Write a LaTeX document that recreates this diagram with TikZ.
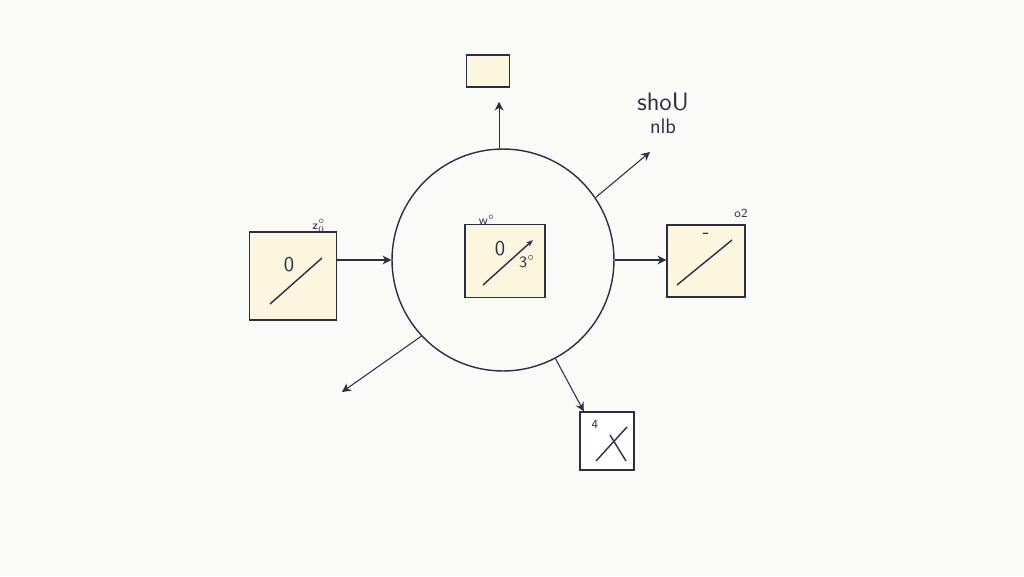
\documentclass[tikz,border=0pt]{standalone}
\usepackage{tikz}
\usetikzlibrary{positioning}
\usetikzlibrary{arrows.meta}
\definecolor{ink}{RGB}{45,45,70}
\definecolor{paper}{RGB}{250,250,247}
\definecolor{wash}{RGB}{250,247,222}
\tikzset{
    boxnode/.style = {rectangle, thick, draw=ink, fill=white, inner sep=0pt},
    boxnodey/.style = {rectangle, thick, draw=ink, fill=wash, inner sep=0pt},
    hubnode/.style = {circle, thick, draw=ink, inner sep=0pt, minimum size=4.44cm},
    labeln/.style = {text=ink, font=\sffamily\large},
    labels/.style = {text=ink, font=\sffamily\scriptsize},
    edgek/.style = {-{Stealth[length=5pt,width=5pt]}, semithick, ink},
    strokek/.style = {-, thick, ink},
}

\begin{document}
\begin{tikzpicture}[x=0.02cm,y=-0.02cm]
%
\path[use as bounding box,fill=paper] (0,0) rectangle (1024,576);
%
\node[hubnode] at (503,260) (hub) {};
\node[boxnodey,minimum width=1.6cm,minimum height=1.46cm] at (505,261) (mid) {};
\node[boxnodey,minimum width=1.74cm,minimum height=1.76cm] at (293,276) (left) {};
\node[boxnodey,minimum width=1.56cm,minimum height=1.44cm] at (706,261) (right) {};
\node[boxnode,minimum width=1.08cm,minimum height=1.16cm] at (607,441) (bot) {};
\node[boxnodey,minimum width=0.86cm,minimum height=0.64cm] at (488,71) (top) {};
%
% marks inside the boxes
\draw[strokek,-{Stealth[length=4pt,width=3pt]}] (483,285) -- (533,240);
\node[labeln] at (500,249) (midz) {0};
\node[labels,font=\sffamily\small] at (527,262) (mida) {3$^\circ$};
\node[labels] at (487,220) (midw) {w$^\circ$};
\draw[strokek] (270,304) -- (322,258);
\node[labeln] at (289,265) (leftz) {0};
\node[labels] at (319,226) (lefta) {z$_0^\circ$};
\draw[strokek] (677,285) -- (732,240);
\node[labeln] at (706,236) (rightm) {-};
\node[labels] at (741,213) (righta) {o2};
\draw[strokek] (596,461) -- (627,427);
\draw[strokek] (610,435) -- (626,461);
\node[labels] at (595,424) (bota) {4};
\node[labeln,font=\sffamily\Large] at (663,102) (note) {shoU};
\node[labeln] at (663,126) (noteb) {nlb};
%
\draw[edgek] (left.east |- hub.west) -- (hub.west);
\draw[edgek] (hub.east) -- (right.west |- hub.east);
\draw[edgek] (hub.92) -- ([yshift=-8pt]hub.92 |- top.south);
\draw[edgek] (hub.34) -- (650,152);
\draw[edgek] (hub.223) -- (342,392);
\draw[edgek] (hub.298) -- (bot.128);

\end{tikzpicture}
\end{document}
